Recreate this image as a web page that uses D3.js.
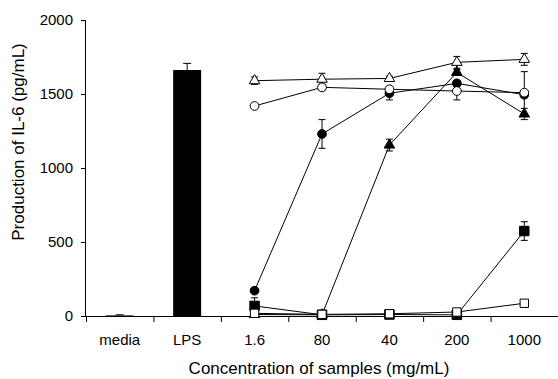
<!DOCTYPE html>
<html>
<head>
<meta charset="utf-8">
<script src="https://cdn.jsdelivr.net/npm/d3@7"></script>
<style>
  body { margin: 0; background: #fff; }
  svg { display: block; font-family: "Liberation Sans", Arial, sans-serif; }
</style>
</head>
<body>
<div id="graph"></div>
<script>
// categories on the x axis
const categories = ['media', 'LPS', '1.6', '80', '40', '200', '1000'];
const doses = ['1.6', '80', '40', '200', '1000'];
const yTicks = [0, 500, 1000, 1500, 2000];

// control bars
const barValues = [4, 1662];
const barErrors = [4, 45];

// dose series (pg/mL) and their errors
const filledTriangle = [10, 8, 1155, 1646, 1365];
const filledTriangleErr = [5, 5, 40, 20, 38];
const filledCircle = [171, 1230, 1505, 1572, 1495];
const filledCircleErr = [10, 97, 45, 20, 20];
const filledSquare = [68, 8, 10, 8, 574];
const filledSquareErr = [55, 5, 5, 5, 63];
const openTriangle = [1590, 1600, 1605, 1714, 1734];
const openTriangleErr = [25, 40, 15, 40, 40];
const openCircle = [1419, 1545, 1532, 1520, 1509];
const openCircleErr = [10, 20, 15, 60, 142];
const openSquare = [18, 11, 15, 27, 86];
const openSquareErr = [5, 5, 5, 5, 5];

const W = 558, H = 379;
const plot = { left: 86, right: 558, top: 20, bottom: 316 };
const font = '"Liberation Sans", Arial, sans-serif';

const svg = d3.select('#graph').append('svg')
    .attr('width', W).attr('height', H);

const x = d3.scaleBand().domain(categories).range([plot.left, plot.right]).padding(0);
const y = d3.scaleLinear().domain([0, 2000]).range([plot.bottom, plot.top]);
const cx = (c) => x(c) + x.bandwidth() / 2;

// y axis
const yAxis = svg.append('g')
    .attr('transform', `translate(${plot.left},0)`)
    .call(d3.axisLeft(y).tickValues(yTicks).tickFormat(d3.format('d')).tickSize(5).tickPadding(8));
yAxis.select('.domain').attr('d', `M-0.5,${plot.top}V${plot.bottom}`);

// x axis: labels centred in bands, ticks on band edges
const xAxis = svg.append('g')
    .attr('transform', `translate(0,${plot.bottom})`)
    .call(d3.axisBottom(x).tickSize(0).tickPadding(18));
xAxis.select('.domain').attr('d', `M${plot.left},0.5H${plot.right}`);
xAxis.selectAll('.edge')
    .data(categories)
    .enter().append('line')
    .attr('class', 'edge')
    .attr('x1', (d) => x(d) + 0.5).attr('x2', (d) => x(d) + 0.5)
    .attr('y1', 0).attr('y2', 6)
    .attr('stroke', '#000');

[xAxis, yAxis].forEach((g) => {
    g.attr('font-size', 15).attr('font-family', font);
    g.selectAll('.tick text').attr('fill', '#000');
    g.selectAll('.tick line').attr('stroke', '#000');
});

// axis titles
svg.append('text')
    .attr('transform', 'translate(24,142) rotate(-90)')
    .attr('text-anchor', 'middle')
    .attr('font-size', 17)
    .text('Production of IL-6 (pg/mL)');
svg.append('text')
    .attr('x', 319).attr('y', 374)
    .attr('text-anchor', 'middle')
    .attr('font-size', 17)
    .text('Concentration of samples (mg/mL)');

// bars for media and LPS
const barW = x.bandwidth() * 0.415;
const bars = categories.slice(0, 2);
svg.selectAll('.bar')
    .data(bars)
    .enter().append('rect')
    .attr('x', (d) => cx(d) - barW / 2)
    .attr('width', barW)
    .attr('y', (d, i) => y(barValues[i]))
    .attr('height', (d, i) => Math.max(1, plot.bottom - y(barValues[i])))
    .attr('fill', '#000');
bars.forEach((c, i) => {
    const g = svg.append('g').attr('stroke', '#000');
    g.append('line')
        .attr('x1', cx(c)).attr('x2', cx(c))
        .attr('y1', y(barValues[i])).attr('y2', y(barValues[i] + barErrors[i]));
    g.append('line')
        .attr('x1', cx(c) - 4).attr('x2', cx(c) + 4)
        .attr('y1', y(barValues[i] + barErrors[i])).attr('y2', y(barValues[i] + barErrors[i]));
});

const series = [
    { values: filledTriangle, err: filledTriangleErr, shape: d3.symbolTriangle, size: 48, fill: '#000' },
    { values: filledCircle, err: filledCircleErr, shape: d3.symbolCircle, size: 60, fill: '#000' },
    { values: filledSquare, err: filledSquareErr, shape: d3.symbolSquare, size: 90, fill: '#000' },
    { values: openTriangle, err: openTriangleErr, shape: d3.symbolTriangle, size: 48, fill: '#fff' },
    { values: openCircle, err: openCircleErr, shape: d3.symbolCircle, size: 60, fill: '#fff' },
    { values: openSquare, err: openSquareErr, shape: d3.symbolSquare, size: 70, fill: '#fff' },
];

const line = d3.line()
    .x((d, i) => cx(doses[i]))
    .y((d) => y(d));

// lines first, then error bars, then markers
series.forEach((s) => {
    svg.append('path')
        .datum(s.values)
        .attr('d', line)
        .attr('fill', 'none')
        .attr('stroke', '#000')
        .attr('stroke-width', 1);
});

series.forEach((s) => {
    const g = svg.append('g').attr('stroke', '#000').attr('stroke-width', 1);
    s.values.forEach((v, i) => {
        const px = cx(doses[i]);
        const hi = y(v + s.err[i]), lo = y(Math.max(0, v - s.err[i]));
        g.append('line').attr('x1', px).attr('x2', px).attr('y1', hi).attr('y2', lo);
        g.append('line').attr('x1', px - 3.5).attr('x2', px + 3.5).attr('y1', hi).attr('y2', hi);
        g.append('line').attr('x1', px - 3.5).attr('x2', px + 3.5).attr('y1', lo).attr('y2', lo);
    });
});

series.forEach((s) => {
    svg.append('g').selectAll('path')
        .data(s.values)
        .enter().append('path')
        .attr('transform', (d, i) => `translate(${cx(doses[i])},${y(d)})`)
        .attr('d', d3.symbol().type(s.shape).size(s.size))
        .attr('fill', s.fill)
        .attr('stroke', '#000')
        .attr('stroke-width', 1);
});
</script>
</body>
</html>
